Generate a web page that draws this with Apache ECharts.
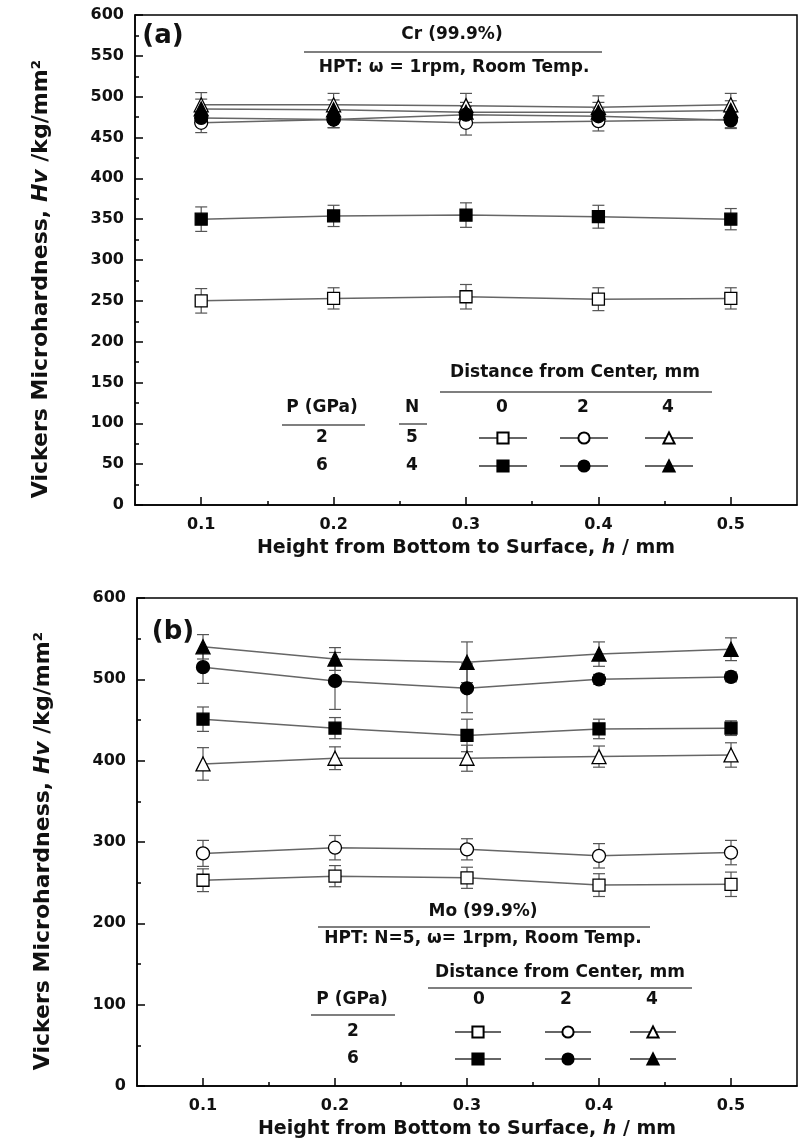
<!DOCTYPE html>
<html><head><meta charset="utf-8">
<script src="https://cdn.jsdelivr.net/npm/echarts@6.0.0/dist/echarts.min.js"></script>
<style>html,body{margin:0;padding:0;background:#fff}#c{width:802px;height:1148px}</style>
</head><body><div id="c"></div>
<script>
// ---------- data ----------
const heights = [0.1, 0.2, 0.3, 0.4, 0.5];
const xTickValues = [0.1, 0.2, 0.3, 0.4, 0.5];
const xMinorTickValues = [0.15, 0.25, 0.35, 0.45];

// Panel (a): Cr (99.9%)
const crP2d0 = [250, 253, 255, 252, 253];  const crP2d0Err = [15, 13, 15, 14, 13];
const crP6d0 = [350, 354, 355, 353, 350];  const crP6d0Err = [15, 13, 15, 14, 13];
const crP2d2 = [468, 472, 468, 470, 472];  const crP2d2Err = [12, 10, 15, 12, 10];
const crP6d2 = [474, 472, 478, 476, 471];  const crP6d2Err = [10, 10, 10, 10, 10];
const crP2d4 = [490, 490, 489, 487, 490];  const crP2d4Err = [15, 14, 15, 14, 14];
const crP6d4 = [485, 484, 481, 481, 483];  const crP6d4Err = [12, 12, 12, 12, 12];

// Panel (b): Mo (99.9%)
const moP2d0 = [253, 258, 256, 247, 248];  const moP2d0Err = [14, 13, 13, 14, 15];
const moP2d2 = [286, 293, 291, 283, 287];  const moP2d2Err = [16, 15, 13, 15, 15];
const moP2d4 = [396, 403, 403, 405, 407];  const moP2d4Err = [20, 14, 16, 13, 15];
const moP6d0 = [451, 440, 431, 439, 440];  const moP6d0Err = [15, 13, 20, 12, 9];
const moP6d2 = [515, 498, 489, 500, 503];  const moP6d2Err = [20, 35, 30, 6, 6];
const moP6d4 = [540, 525, 521, 531, 537];  const moP6d4Err = [15, 14, 25, 15, 14];

// ---------- styling ----------
const FONT = 'DejaVu Sans';
const TXT = '#111';
const LINE = '#666';
const EBAR = '#555';

const chart = echarts.init(document.getElementById('c'), null, {renderer: 'canvas'});

function lineSeries(name, xi, yi, vals, symbol, filled, size) {
  return {
    name, type: 'line', xAxisIndex: xi, yAxisIndex: yi,
    data: heights.map((h, i) => [h, vals[i]]),
    symbol, symbolSize: size,
    lineStyle: {color: LINE, width: 1.5},
    itemStyle: {color: filled ? '#000' : '#fff', borderColor: '#000', borderWidth: 1.3},
    z: 3, animation: false
  };
}
function errSeries(xi, yi, vals, errs) {
  return {
    type: 'custom', xAxisIndex: xi, yAxisIndex: yi, z: 2, animation: false,
    data: heights.map((h, i) => [h, vals[i], errs[i]]),
    encode: {x: 0, y: 1},
    renderItem: function (params, api) {
      const x = api.value(0), v = api.value(1), e = api.value(2);
      const t = api.coord([x, v + e]), b = api.coord([x, v - e]);
      const hw = 6;
      const st = {stroke: EBAR, lineWidth: 1.2};
      return {type: 'group', children: [
        {type: 'line', shape: {x1: t[0], y1: t[1], x2: b[0], y2: b[1]}, style: st},
        {type: 'line', shape: {x1: t[0] - hw, y1: t[1], x2: t[0] + hw, y2: t[1]}, style: st},
        {type: 'line', shape: {x1: b[0] - hw, y1: b[1], x2: b[0] + hw, y2: b[1]}, style: st}
      ]};
    }
  };
}

const defs = [
  // name, xi, yi, vals, errs, symbol, filled, size
  ['a20', 0, 0, crP2d0, crP2d0Err, 'rect', false, 12],
  ['a60', 0, 0, crP6d0, crP6d0Err, 'rect', true, 12],
  ['a22', 0, 0, crP2d2, crP2d2Err, 'circle', false, 13],
  ['a24', 0, 0, crP2d4, crP2d4Err, 'triangle', false, 14],
  ['a62', 0, 0, crP6d2, crP6d2Err, 'circle', true, 13],
  ['a64', 0, 0, crP6d4, crP6d4Err, 'triangle', true, 14],
  ['b20', 2, 1, moP2d0, moP2d0Err, 'rect', false, 12],
  ['b22', 2, 1, moP2d2, moP2d2Err, 'circle', false, 13],
  ['b24', 2, 1, moP2d4, moP2d4Err, 'triangle', false, 14],
  ['b60', 2, 1, moP6d0, moP6d0Err, 'rect', true, 12],
  ['b62', 2, 1, moP6d2, moP6d2Err, 'circle', true, 13],
  ['b64', 2, 1, moP6d4, moP6d4Err, 'triangle', true, 14]
];
const series = [];
defs.forEach(d => series.push(errSeries(d[1], d[2], d[3], d[4])));
defs.forEach(d => series.push(lineSeries(d[0], d[1], d[2], d[3], d[5], d[6], d[7])));

function legendItem(name, cx, cy, w) {
  return {
    data: [name], left: cx - w / 2, top: cy - 7, padding: 0,
    itemWidth: w, itemHeight: 14, formatter: () => '', selectedMode: false,
    textStyle: {fontSize: 1}
  };
}
const legends = [
  legendItem('a20', 502, 438, 48), legendItem('a22', 583, 438, 48), legendItem('a24', 668, 438, 48),
  legendItem('a60', 502, 466, 48), legendItem('a62', 583, 466, 48), legendItem('a64', 668, 466, 48),
  legendItem('b20', 477, 1032, 46), legendItem('b22', 567, 1032, 46), legendItem('b24', 652, 1032, 46),
  legendItem('b60', 477, 1059, 46), legendItem('b62', 567, 1059, 46), legendItem('b64', 652, 1059, 46)
];

function xMain(gi) {
  return {
    type: 'value', gridIndex: gi, min: 0.05, max: 0.55, interval: 0.05,
    name: '{n|Height from Bottom to Surface, }{i|h}{n| / mm}',
    nameLocation: 'middle', nameGap: 34,
    nameTextStyle: {rich: {
      n: {fontFamily: FONT, fontWeight: 'bold', fontSize: 19, color: TXT},
      i: {fontFamily: FONT, fontWeight: 'bold', fontStyle: 'italic', fontSize: 19, color: TXT}
    }},
    axisLine: {lineStyle: {color: '#000', width: 1.5}},
    axisTick: {inside: true, length: 8, customValues: xTickValues, lineStyle: {color: '#000', width: 1.5}},
    axisLabel: {customValues: xTickValues, margin: 12, fontFamily: FONT, fontWeight: 'bold', fontSize: 16, color: TXT,
      formatter: v => v.toFixed(1)},
    splitLine: {show: false}
  };
}
function xMinor(gi) {
  return {
    type: 'value', gridIndex: gi, min: 0.05, max: 0.55, interval: 0.05, position: 'bottom',
    axisLine: {show: false},
    axisTick: {inside: true, length: 4, customValues: xMinorTickValues, lineStyle: {color: '#000', width: 1.5}},
    axisLabel: {show: false}, splitLine: {show: false}
  };
}
function yAxis(gi, interval) {
  return {
    type: 'value', gridIndex: gi, min: 0, max: 600, interval,
    name: '{n|Vickers Microhardness, }{i|Hv}{n| /kg/mm²}',
    nameLocation: 'middle', nameGap: 83,
    nameTextStyle: {padding: gi === 0 ? [0, 38, 0, 0] : [0, 18, 0, 0], rich: {
      n: {fontFamily: FONT, fontWeight: 'bold', fontSize: 22, color: TXT},
      i: {fontFamily: FONT, fontWeight: 'bold', fontStyle: 'italic', fontSize: 22, color: TXT}
    }},
    axisLine: {show: true, lineStyle: {color: '#000', width: 1.5}},
    axisTick: {show: true, inside: true, length: 8, lineStyle: {color: '#000', width: 1.5}},
    minorTick: {show: true, splitNumber: 2, length: 4, lineStyle: {color: '#000', width: 1.5}},
    axisLabel: {margin: 11, fontFamily: FONT, fontWeight: 'bold', fontSize: 16, color: TXT},
    splitLine: {show: false}
  };
}

function txt(str, cx, cy, size, extra) {
  return Object.assign({
    type: 'text', x: cx, y: cy,
    style: {text: str, fill: TXT, font: 'bold ' + size + 'px "' + FONT + '"', textAlign: 'center', textVerticalAlign: 'middle'}
  }, extra || {});
}
function hline(x1, x2, y) {
  return {type: 'line', shape: {x1, y1: y, x2, y2: y}, style: {stroke: '#555', lineWidth: 1.5}};
}
const graphics = [
  // panel (a)
  txt('(a)', 163, 36, 26),
  txt('Cr (99.9%)', 452, 35, 17),
  hline(304, 602, 52),
  txt('HPT: ω = 1rpm, Room Temp.', 454, 68, 17),
  txt('Distance from Center, mm', 575, 373, 17),
  hline(440, 712, 392),
  txt('P (GPa)', 322, 408, 17), hline(282, 365, 425),
  txt('N', 412, 408, 17), hline(399, 427, 424),
  txt('0', 502, 408, 17), txt('2', 583, 408, 17), txt('4', 668, 408, 17),
  txt('2', 322, 438, 17), txt('5', 412, 438, 17),
  txt('6', 322, 466, 17), txt('4', 412, 466, 17),
  // panel (b)
  txt('(b)', 173, 632, 26),
  txt('Mo (99.9%)', 483, 912, 17),
  hline(318, 650, 927),
  txt('HPT: N=5, ω= 1rpm, Room Temp.', 483, 939, 17),
  txt('Distance from Center, mm', 560, 973, 17),
  hline(428, 692, 988),
  txt('P (GPa)', 352, 1000, 17), hline(311, 395, 1015),
  txt('0', 479, 1000, 17), txt('2', 566, 1000, 17), txt('4', 652, 1000, 17),
  txt('2', 353, 1032, 17), txt('6', 353, 1059, 17)
];

chart.setOption({
  backgroundColor: '#fff',
  animation: false,
  grid: [
    {left: 135, right: 5, top: 15, height: 490, show: true, borderColor: '#000', borderWidth: 1.5, outerBoundsMode: 'none'},
    {left: 137, right: 5, top: 598, height: 488, show: true, borderColor: '#000', borderWidth: 1.5, outerBoundsMode: 'none'}
  ],
  xAxis: [xMain(0), xMinor(0), xMain(1), xMinor(1)],
  yAxis: [yAxis(0, 50), yAxis(1, 100)],
  legend: legends,
  series,
  graphic: graphics
});
</script></body></html>
